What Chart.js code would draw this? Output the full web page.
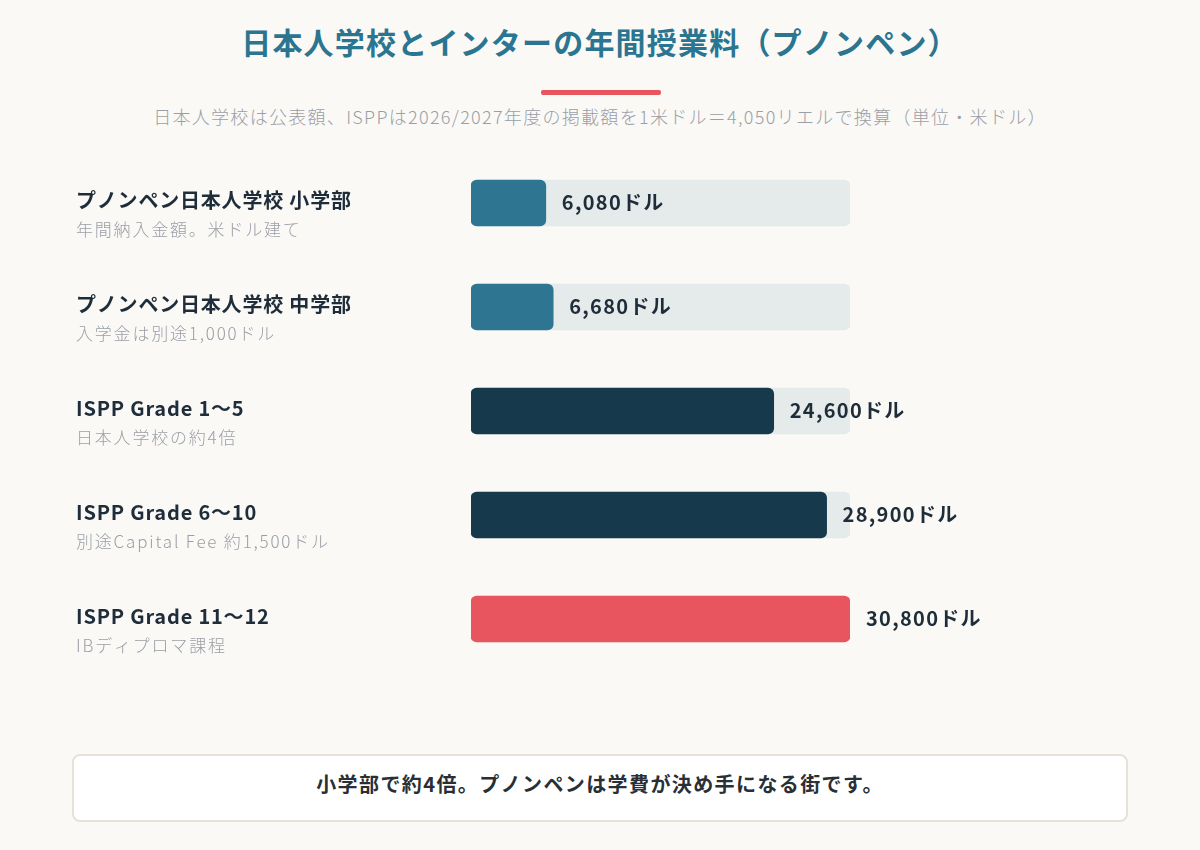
<!DOCTYPE html>
<html lang="ja">
<head>
<meta charset="utf-8">
<script src="https://cdn.jsdelivr.net/npm/chart.js@4.4.1/dist/chart.umd.min.js"></script>
<style>
  body { margin: 0; width: 1200px; height: 850px; background: #faf9f6; font-family: "Noto Sans CJK JP", "Noto Sans", sans-serif; position: relative; overflow: hidden; }
  h1 { position: absolute; top: 19px; left: 0; width: 1200px; margin: 0; text-align: center; font-size: 30px; font-weight: 700; color: #2b7591; letter-spacing: 1.2px; }
  .rule { position: absolute; left: 541px; top: 90px; width: 120px; height: 5px; background: #e8555f; border-radius: 2px; }
  .sub { position: absolute; top: 103px; left: 0; width: 1200px; text-align: center; font-size: 18px; font-weight: 300; color: #9a9ea6; letter-spacing: 1.3px; }
  .wrap { position: absolute; left: 0; top: 151px; width: 1200px; height: 520px; }
  .note { position: absolute; left: 72px; top: 754px; width: 1052px; height: 54px; padding-bottom: 10px; background: #fff; border: 2px solid #e6e1d9; border-radius: 8px; display: flex; align-items: center; justify-content: center; font-size: 20px; font-weight: 700; color: #2a2f36; letter-spacing: 1.4px; }
</style>
</head>
<body>
<h1>日本人学校とインターの年間授業料（プノンペン）</h1>
<div class="rule"></div>
<div class="sub">日本人学校は公表額、ISPPは2026/2027年度の掲載額を1米ドル＝4,050リエルで換算（単位・米ドル）</div>
<div class="wrap"><canvas id="feeChart" width="1200" height="520"></canvas></div>
<div class="note">小学部で約4倍。プノンペンは学費が決め手になる街です。</div>
<script>
const categories = ['プノンペン日本人学校 小学部', 'プノンペン日本人学校 中学部', 'ISPP Grade 1〜5', 'ISPP Grade 6〜10', 'ISPP Grade 11〜12'];
const notes = ['年間納入金額。米ドル建て', '入学金は別途1,000ドル', '日本人学校の約4倍', '別途Capital Fee 約1,500ドル', 'IBディプロマ課程'];
const fees = [6080, 6680, 24600, 28900, 30800];
const barColors = ['#2d7591', '#2d7591', '#163a4c', '#163a4c', '#e8555f'];
const maxFee = 30800;
const track = categories.map(() => maxFee);

// left labels and value labels
const sideText = {
  id: 'sideText',
  afterDatasetsDraw(chart) {
    const ctx = chart.ctx;
    const y = chart.scales.y;
    const x = chart.scales.x;
    ctx.save();
    categories.forEach((name, i) => {
      const cy = y.getPixelForValue(i);
      ctx.textAlign = 'left';
      ctx.textBaseline = 'middle';
      ctx.fillStyle = '#1f2d3a';
      ctx.font = 'bold 20px "Noto Sans CJK JP"';
      ctx.letterSpacing = '0.8px';
      ctx.fillText(name, 76, cy - 3);
      ctx.fillStyle = '#9a9ea6';
      ctx.font = '300 17px "Noto Sans CJK JP"';
      ctx.letterSpacing = '1.8px';
      ctx.fillText(notes[i], 76, cy + 27);
      ctx.fillStyle = '#1f2d3a';
      ctx.font = 'bold 20px "Noto Sans CJK JP"';
      ctx.letterSpacing = '1.3px';
      ctx.fillText(fees[i].toLocaleString('en-US') + 'ドル', x.getPixelForValue(fees[i]) + 16, cy - 1);
    });
    ctx.restore();
  }
};

new Chart(document.getElementById('feeChart'), {
  type: 'bar',
  data: {
    labels: categories,
    datasets: [
      { data: fees, backgroundColor: barColors, borderRadius: 6, borderSkipped: false, barThickness: 46, grouped: false, order: 1 },
      { data: track, backgroundColor: '#e5eaea', borderRadius: 6, borderSkipped: false, barThickness: 46, grouped: false, order: 2 }
    ]
  },
  options: {
    indexAxis: 'y',
    responsive: false,
    animation: false,
    layout: { padding: { left: 471, right: 350, top: 0, bottom: 0 } },
    scales: {
      x: { display: false, min: 0, max: maxFee },
      y: { display: false }
    },
    plugins: { legend: { display: false }, tooltip: { enabled: false } }
  },
  plugins: [sideText]
});
</script>
</body>
</html>
